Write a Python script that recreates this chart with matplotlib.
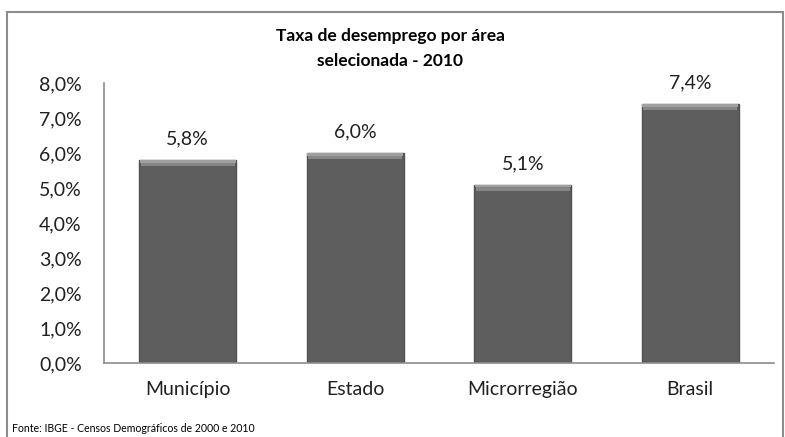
import numpy as np
from matplotlib import pyplot as plt
from matplotlib.patches import Rectangle

categorias = ['Município', 'Estado', 'Microrregião', 'Brasil']
taxas = [5.8, 6.0, 5.1, 7.4]
yticks = [0, 1, 2, 3, 4, 5, 6, 7, 8]

plt.rcParams['font.family'] = ['Lato', 'DejaVu Sans']

fig = plt.figure(figsize=(7.85, 4.37), dpi=100)
# moldura do grafico
fig.patches.append(Rectangle((7/785, -0.1), (783-7)/785, 1.1 - 12/437,
                             transform=fig.transFigure, fill=False,
                             edgecolor='#8c8c8c', linewidth=1.5))

ax = fig.add_axes([104/785, 74/437, 670/785, 280/437])
x = np.arange(len(categorias))
w = 0.58
ax.bar(x, taxas, width=w, color='#5e5e5e', edgecolor='#505050', linewidth=1)
# faixa clara no topo (efeito bisel)
bevel = 0.18
ax.bar(x, [bevel]*len(x), bottom=[t - bevel for t in taxas], width=w*0.97,
       color='#878787', linewidth=0)
ax.bar(x, [bevel*0.4]*len(x), bottom=[t - bevel*0.4 for t in taxas], width=w*0.99,
       color='#a0a0a0', linewidth=0)

for xi, t in zip(x, taxas):
    ax.text(xi, t + 0.35, ('%.1f%%' % t).replace('.', ','), ha='center', va='bottom',
            fontsize=14, color='#202020')

ax.set_xlim(-0.5, len(categorias) - 0.5)
ax.set_ylim(0, 8)
ax.set_yticks(yticks)
ax.set_yticklabels([('%.1f%%' % v).replace('.', ',') for v in yticks], fontsize=14, color='#202020')
ax.set_xticks(x)
ax.set_xticklabels(categorias, fontsize=14, color='#202020')
ax.tick_params(axis='both', length=0)
ax.tick_params(axis='x', pad=13)
ax.tick_params(axis='y', pad=16)
for s in ['top', 'right']:
    ax.spines[s].set_visible(False)
for s in ['left', 'bottom']:
    ax.spines[s].set_color('#8c8c8c')
    ax.spines[s].set_linewidth(1.2)

fig.text(390/785, 1 - 36/437, 'Taxa de desemprego por área', ha='center', va='center',
         fontsize=12.5, fontweight='bold', color='#000000')
fig.text(390/785, 1 - 61/437, 'selecionada - 2010', ha='center', va='center',
         fontsize=12.5, fontweight='bold', color='#000000')
fig.text(12/785, 1 - 428/437, 'Fonte: IBGE - Censos Demográficos de 2000 e 2010', ha='left',
         va='center', fontsize=7.6, color='#000000')

fig.savefig('out.png', dpi=100)
